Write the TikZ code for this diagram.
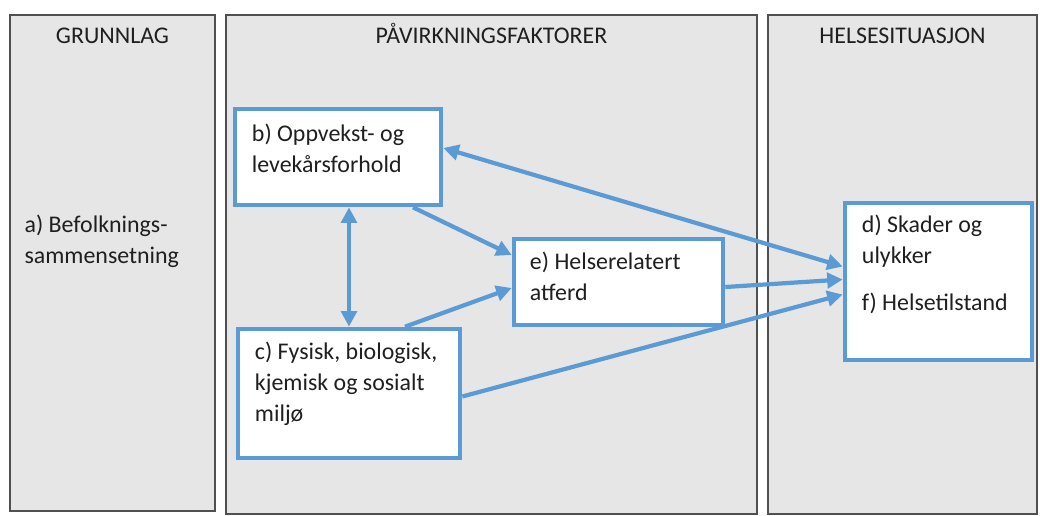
\documentclass[tikz,border=0pt]{standalone}
\usepackage{fontspec}
\setmainfont{Carlito}
\usepackage{tikz}
\usetikzlibrary{arrows.meta, positioning}
\definecolor{boxblue}{RGB}{91,155,213}
\definecolor{panelgray}{RGB}{231,230,230}
\definecolor{panelline}{RGB}{80,80,80}
\newcommand{\pxu}{0.025cm}

\begin{document}
\begin{tikzpicture}[x=\pxu, y=-\pxu,
    font=\fontsize{17}{22}\selectfont,
    panel/.style={draw=panelline, line width=1pt, fill=panelgray, inner sep=0pt},
    factor/.style={draw=boxblue, line width=3.3pt, fill=white, inner sep=0pt},
    paneltitle/.style={anchor=base, inner sep=0pt, text=black!88},
    factortext/.style={anchor=base west, inner sep=0pt, align=flush left, text=black!88},
    link/.style={draw=boxblue, line width=3pt, -{Triangle[length=11pt,width=11pt]}},
    twoway/.style={link, {Triangle[length=11pt,width=11pt]}-{Triangle[length=11pt,width=11pt]}}]
    \useasboundingbox (0,0) rectangle (1040,515);
    % panels
    \node[panel, minimum width=205*\pxu, minimum height=496*\pxu] (grunnlag) at (112.5,263) {};
    \node[panel, minimum width=531*\pxu, minimum height=499*\pxu] (faktorer) at (491.5,264.5) {};
    \node[panel, minimum width=269*\pxu, minimum height=499*\pxu] (helse) at (902.5,264.5) {};
    \node[paneltitle] (tgrunnlag) at ([shift={(0,29)}]grunnlag.north) {GRUNNLAG};
    \node[paneltitle] (tfaktorer) at ([shift={(0,29)}]faktorer.north) {PÅVIRKNINGSFAKTORER};
    \node[paneltitle] (thelse) at ([shift={(0,29)}]helse.north) {HELSESITUASJON};
    \node[factortext, text width=4.6cm] (atext) at ([shift={(15,218)}]grunnlag.north west)
      {a) Befolknings-\\sammensetning};
    % factor boxes
    \node[factor, minimum width=206*\pxu, minimum height=96*\pxu] (b) at (338,157) {};
    \node[factor, minimum width=222*\pxu, minimum height=129*\pxu] (c) at (349,393.5) {};
    \node[factor, minimum width=209*\pxu, minimum height=86*\pxu] (e) at (618.5,282) {};
    \node[factor, minimum width=187*\pxu, minimum height=157*\pxu] (d) at (938.5,281.5) {};
    \node[factortext, text width=4.6cm] (btext) at ([shift={(19,35)}]b.north west)
      {b) Oppvekst- og\\levekårsforhold};
    \node[factortext, text width=5cm] (ctext) at ([shift={(19,33)}]c.north west)
      {c) Fysisk, biologisk,\\kjemisk og sosialt\\miljø};
    \node[factortext, text width=4.5cm] (etext) at ([shift={(18,33)}]e.north west)
      {e) Helserelatert\\atferd};
    \node[factortext, text width=4cm] (dtext) at ([shift={(19,32)}]d.north west)
      {d) Skader og\\ulykker\\[0.4cm]f) Helsetilstand};
    % connectors
    \draw[twoway] ([shift={(0,-9)}]b.east) -- ([shift={(0,-15)}]d.west);
    \draw[link] ([shift={(75,0)}]b.south) -- ([shift={(0,-27)}]e.west);
    \draw[twoway] ([shift={(11,0)}]b.south) -- (c.north);
    \draw[link] ([shift={(56,0)}]c.north) -- ([shift={(0,6)}]e.west);
    \draw[link] ([shift={(0,5)}]e.east) -- ([shift={(0,-2)}]d.west);
    \draw[link] ([shift={(0,3)}]c.east) -- ([shift={(0,13)}]d.west);
\end{tikzpicture}
\end{document}
